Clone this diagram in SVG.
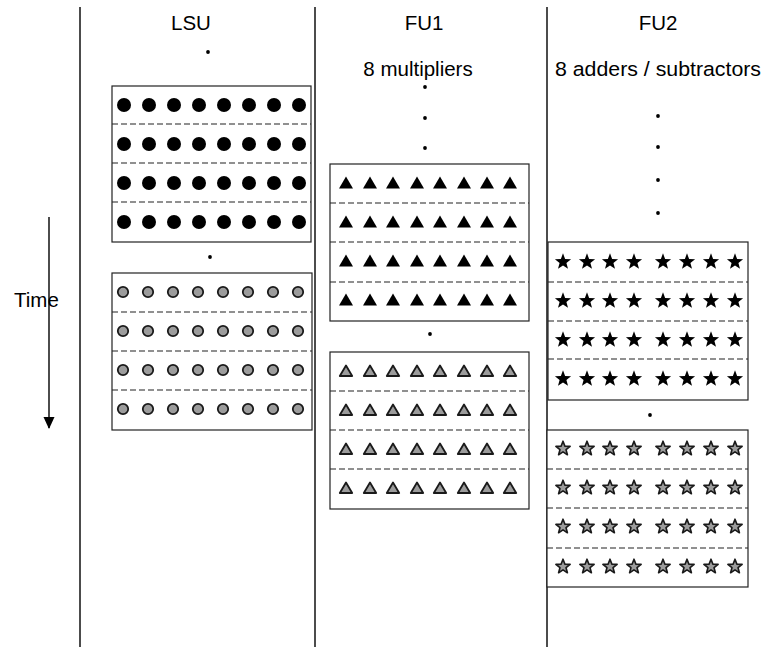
<svg xmlns="http://www.w3.org/2000/svg" xmlns:xlink="http://www.w3.org/1999/xlink" width="763" height="647" viewBox="0 0 763 647">
<style>
.lbl{font-family:"Liberation Sans",Arial,sans-serif;font-size:20.5px;fill:#000}
.vline{stroke:#111;stroke-width:1.5}
.box{fill:#fff;stroke:#222;stroke-width:1.2}
.dash{stroke:#222;stroke-width:1.1;stroke-dasharray:6 3}
.dot{fill:#000}
</style>
<defs>
<circle id="cB" r="7" fill="#000"/>
<circle id="cG" r="5.2" fill="#9c9c9c" stroke="#1a1a1a" stroke-width="1.8"/>
<polygon id="tB" points="0,-6.5 7,5.5 -7,5.5" fill="#000"/>
<polygon id="tG" points="0,-5.5 6.2,5 -6.2,5" fill="#9c9c9c" stroke="#1a1a1a" stroke-width="1.8" stroke-linejoin="round"/>
<polygon id="sB" points="0,-7.7 2.12,-2.11 8.08,-1.83 3.42,1.91 5,7.68 0,4.4 -5,7.68 -3.42,1.91 -8.08,-1.83 -2.12,-2.11" fill="#000"/>
<polygon id="sG" points="0,-6.8 1.88,-1.89 7.13,-1.62 3.04,1.69 4.41,6.77 0,3.9 -4.41,6.77 -3.04,1.69 -7.13,-1.62 -1.88,-1.89" fill="#9c9c9c" stroke="#1a1a1a" stroke-width="1.6" stroke-linejoin="round"/>
<g id="rowCB"><use href="#cB" x="12"/><use href="#cB" x="37"/><use href="#cB" x="62"/><use href="#cB" x="87"/><use href="#cB" x="112"/><use href="#cB" x="137"/><use href="#cB" x="162"/><use href="#cB" x="187"/></g>
<g id="rowCG"><use href="#cG" x="11"/><use href="#cG" x="36"/><use href="#cG" x="61"/><use href="#cG" x="86"/><use href="#cG" x="111"/><use href="#cG" x="136"/><use href="#cG" x="161"/><use href="#cG" x="186"/></g>
<g id="rowTB"><use href="#tB" x="16"/><use href="#tB" x="40"/><use href="#tB" x="63"/><use href="#tB" x="87"/><use href="#tB" x="110"/><use href="#tB" x="134"/><use href="#tB" x="157"/><use href="#tB" x="180"/></g>
<g id="rowTG"><use href="#tG" x="16"/><use href="#tG" x="40"/><use href="#tG" x="63"/><use href="#tG" x="87"/><use href="#tG" x="110"/><use href="#tG" x="134"/><use href="#tG" x="157"/><use href="#tG" x="180"/></g>
<g id="rowSB"><use href="#sB" x="15"/><use href="#sB" x="39"/><use href="#sB" x="62"/><use href="#sB" x="86"/><use href="#sB" x="115"/><use href="#sB" x="139"/><use href="#sB" x="163"/><use href="#sB" x="187"/></g>
<g id="rowSG"><use href="#sG" x="15"/><use href="#sG" x="39"/><use href="#sG" x="62"/><use href="#sG" x="86"/><use href="#sG" x="115"/><use href="#sG" x="139"/><use href="#sG" x="163"/><use href="#sG" x="187"/></g>
<marker id="arrow" viewBox="0 0 12 16" refX="11" refY="8" markerWidth="12" markerHeight="16" markerUnits="userSpaceOnUse" orient="auto"><path d="M0,2.5 L12,8 L0,13.5 Z" fill="#000"/></marker>
</defs>
<rect width="763" height="647" fill="#fff"/>

<g id="columns">
<line class="vline" x1="80" y1="7" x2="80" y2="647"/>
<line class="vline" x1="315" y1="7" x2="315" y2="647"/>
<line class="vline" x1="547" y1="7" x2="547" y2="647"/>
</g>

<g id="headers">
<text class="lbl" x="191" y="30" text-anchor="middle">LSU</text>
<text class="lbl" x="424" y="30" text-anchor="middle">FU1</text>
<text class="lbl" x="418" y="76" text-anchor="middle">8 multipliers</text>
<text class="lbl" x="658" y="30" text-anchor="middle">FU2</text>
<text class="lbl" x="555" y="76" textLength="206" lengthAdjust="spacingAndGlyphs">8 adders / subtractors</text>
</g>

<g id="ellipsis">
<circle class="dot" cx="208" cy="52" r="1.9"/>
<circle class="dot" cx="210" cy="257" r="1.9"/>
<circle class="dot" cx="425" cy="87" r="1.9"/>
<circle class="dot" cx="425" cy="118" r="1.9"/>
<circle class="dot" cx="425" cy="148" r="1.9"/>
<circle class="dot" cx="430" cy="334" r="1.9"/>
<circle class="dot" cx="658" cy="116" r="1.9"/>
<circle class="dot" cx="658" cy="147" r="1.9"/>
<circle class="dot" cx="658" cy="180" r="1.9"/>
<circle class="dot" cx="658" cy="213" r="1.9"/>
<circle class="dot" cx="650" cy="415" r="1.9"/>
</g>

<g id="lsu-block-1">
<rect class="box" x="112" y="86" width="199" height="156"/>
<line class="dash" x1="112" y1="124" x2="311" y2="124"/>
<line class="dash" x1="112" y1="163" x2="311" y2="163"/>
<line class="dash" x1="112" y1="202" x2="311" y2="202"/>
<use href="#rowCB" x="112" y="105"/>
<use href="#rowCB" x="112" y="144"/>
<use href="#rowCB" x="112" y="183"/>
<use href="#rowCB" x="112" y="222"/>
</g>

<g id="lsu-block-2">
<rect class="box" x="112" y="273" width="200" height="157"/>
<line class="dash" x1="112" y1="312" x2="312" y2="312"/>
<line class="dash" x1="112" y1="351" x2="312" y2="351"/>
<line class="dash" x1="112" y1="390" x2="312" y2="390"/>
<use href="#rowCG" x="112" y="292"/>
<use href="#rowCG" x="112" y="331"/>
<use href="#rowCG" x="112" y="370"/>
<use href="#rowCG" x="112" y="409"/>
</g>

<g id="fu1-block-1">
<rect class="box" x="330" y="164" width="199" height="157"/>
<line class="dash" x1="330" y1="203" x2="529" y2="203"/>
<line class="dash" x1="330" y1="242" x2="529" y2="242"/>
<line class="dash" x1="330" y1="282" x2="529" y2="282"/>
<use href="#rowTB" x="330" y="183"/>
<use href="#rowTB" x="330" y="222"/>
<use href="#rowTB" x="330" y="261"/>
<use href="#rowTB" x="330" y="300"/>
</g>

<g id="fu1-block-2">
<rect class="box" x="330" y="352" width="199" height="157"/>
<line class="dash" x1="330" y1="391" x2="529" y2="391"/>
<line class="dash" x1="330" y1="430" x2="529" y2="430"/>
<line class="dash" x1="330" y1="469" x2="529" y2="469"/>
<use href="#rowTG" x="330" y="371"/>
<use href="#rowTG" x="330" y="410"/>
<use href="#rowTG" x="330" y="449"/>
<use href="#rowTG" x="330" y="488"/>
</g>

<g id="fu2-block-1">
<rect class="box" x="548" y="242" width="200" height="158"/>
<line class="dash" x1="548" y1="282" x2="748" y2="282"/>
<line class="dash" x1="548" y1="321" x2="748" y2="321"/>
<line class="dash" x1="548" y1="359" x2="748" y2="359"/>
<use href="#rowSB" x="548" y="261"/>
<use href="#rowSB" x="548" y="300"/>
<use href="#rowSB" x="548" y="339"/>
<use href="#rowSB" x="548" y="378"/>
</g>

<g id="fu2-block-2">
<rect class="box" x="547" y="430" width="201" height="157"/>
<line class="dash" x1="547" y1="469" x2="748" y2="469"/>
<line class="dash" x1="547" y1="508" x2="748" y2="508"/>
<line class="dash" x1="547" y1="548" x2="748" y2="548"/>
<use href="#rowSG" x="548" y="448"/>
<use href="#rowSG" x="548" y="487"/>
<use href="#rowSG" x="548" y="526"/>
<use href="#rowSG" x="548" y="566"/>
</g>

<g id="connectors">
<line x1="49" y1="217" x2="49" y2="428" stroke="#000" stroke-width="1.4" marker-end="url(#arrow)"/>
</g>

<g id="time-label">
<text class="lbl" x="14" y="307">Time</text>
</g>
</svg>
